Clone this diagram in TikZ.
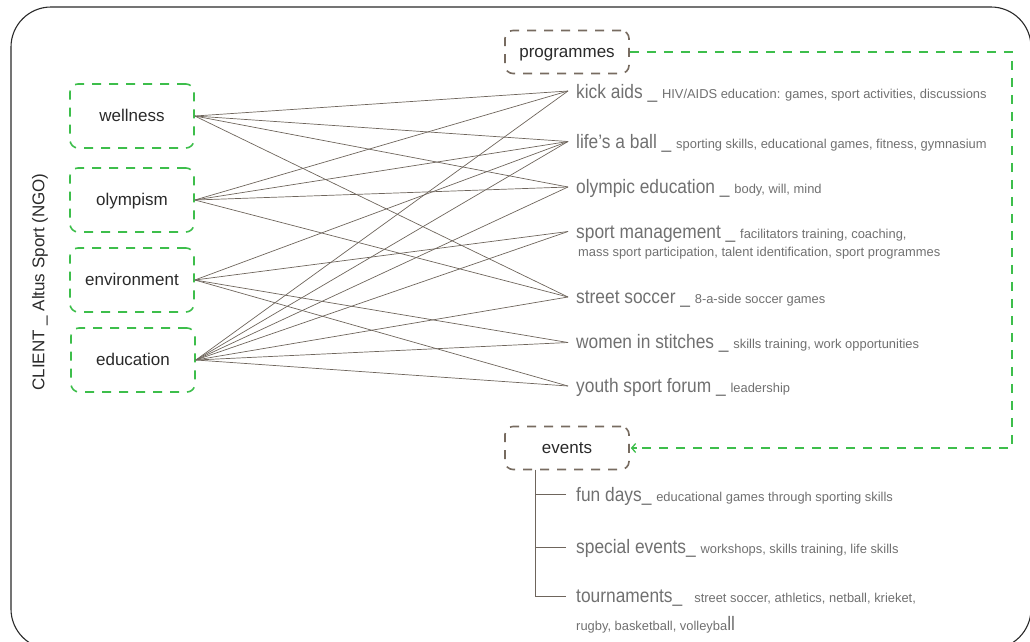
\documentclass[tikz,border=0pt]{standalone}
\usepackage{fontspec}
\setmainfont{Liberation Sans}
\newfontfamily\bigf{Liberation Sans}[FakeStretch=0.89]
\usetikzlibrary{arrows.meta}
\definecolor{grn}{HTML}{3DBE4B}
\definecolor{brn}{HTML}{776B60}
\definecolor{lnc}{HTML}{6E655C}
\definecolor{txtc}{HTML}{707070}
\definecolor{darkc}{HTML}{2A2A2A}
\newcommand\bg{\bigf\fontsize{19.5}{22}\selectfont}
\newcommand\sm{\normalfont\fontsize{12.9}{15}\selectfont}
\begin{document}
\begin{tikzpicture}[x=1pt,y=-1pt,
  frame/.style={draw=darkc, line width=1.1pt, rounded corners=40pt},
  catbox/.style={draw=grn, line width=1.6pt, dash pattern=on 9pt off 8pt, rounded corners=8pt,
    minimum width=124pt, minimum height=64pt, inner sep=0pt, text height=13pt, text depth=2pt,
    font=\fontsize{17}{20}\selectfont, text=darkc},
  secbox/.style={draw=brn, line width=1.6pt, dash pattern=on 9pt off 8pt, rounded corners=8pt,
    minimum width=124pt, minimum height=43pt, inner sep=0pt, text height=13pt, text depth=2pt,
    font=\fontsize{17}{20}\selectfont, text=darkc},
  link/.style={draw=lnc, line width=0.7pt},
  tree/.style={draw=lnc, line width=0.9pt},
  flow/.style={draw=grn, line width=1.6pt, dash pattern=on 9pt off 8pt},
  item/.style={anchor=base west, inner sep=0pt, text=txtc}
]
\useasboundingbox (0,0) rectangle (1030,641);
\draw[frame] (11,7) rectangle (1031,649);

% client label
\node[rotate=90, font=\fontsize{17}{20}\selectfont, text=darkc] (client) at (40,282) {CLIENT \_ Altus Sport (NGO)};

% categories
\node[catbox] (well) at (132,116) {wellness};
\node[catbox] (olym) at (132,200) {olympism};
\node[catbox] (env)  at (132,280) {environment};
\node[catbox] (edu)  at (133,360) {education};

% section boxes
\node[secbox] (prog) at (567,52) {programmes};
\node[secbox] (evts) at (567,448) {events};

% programme anchors
\coordinate (pk) at (568,91);
\coordinate (pl) at (568,141.5);
\coordinate (po) at (568,187);
\coordinate (ps) at (568,231.5);
\coordinate (pt) at (568,297);
\coordinate (pw) at (568,342.5);
\coordinate (py) at (568,386);

% programme texts
\node[item] (tk) at (576,98.3) {\bg kick aids \_ \sm HIV/AIDS education: games, sport activities, discussions};
\node[item] (tl) at (576,148.3) {\bg life’s a ball \_ \sm sporting skills, educational games, fitness, gymnasium};
\node[item] (to) at (576,193.8) {\bg olympic education \_ \sm body, will, mind};
\node[item] (ts) at (576,238.3) {\bg sport management \_ \sm facilitators training, coaching,};
\node[item] (ts2) at (578,256.7) {\sm mass sport participation, talent identification, sport programmes};
\node[item] (tt) at (576,303.3) {\bg street soccer \_ \sm 8-a-side soccer games};
\node[item] (tw) at (576,348) {\bg women in stitches \_ \sm skills training, work opportunities};
\node[item] (ty) at (576,392.5) {\bg youth sport forum \_ \sm leadership};

% links
\foreach \s/\t in {well/pk, well/pl, well/po, well/pt,
                   olym/pk, olym/pl, olym/po, olym/pt,
                   env/pl, env/ps, env/pw, env/py,
                   edu/pk, edu/pl, edu/po, edu/ps, edu/pt, edu/pw, edu/py}
  \draw[link] (\s.east) -- (\t);

% programmes -> events
\coordinate (c1) at (1012,52);
\coordinate (c2) at (1012,448);
\draw[flow] (prog.east) -- (c1) -- (c2) -- ([xshift=6pt]evts.east);
\draw[draw=grn, line width=1.3pt, -{Straight Barb[length=4pt,width=9pt]}] ([xshift=7pt]evts.east) -- ([xshift=1pt]evts.east);

% events tree
\coordinate (tv) at (535,469.5);
\coordinate (b1) at (566,494);
\coordinate (b2) at (566,547.5);
\coordinate (b3) at (566,596);
\draw[tree] (tv) |- (b3);
\draw[tree] (b1) -- (b1 -| tv);
\draw[tree] (b2) -- (b2 -| tv);

\node[item] (ef) at (576,501) {\bg fun days\_ \sm educational games through sporting skills};
\node[item] (es) at (576,553) {\bg special events\_ \sm workshops, skills training, life skills};
\node[item] (et) at (576,602) {\bg tournaments\_ \sm\ \ street soccer, athletics, netball, krieket,};
\node[item] (et2) at (576,630) {\sm rugby, basketball, volleyba\bg ll};
\end{tikzpicture}
\end{document}
